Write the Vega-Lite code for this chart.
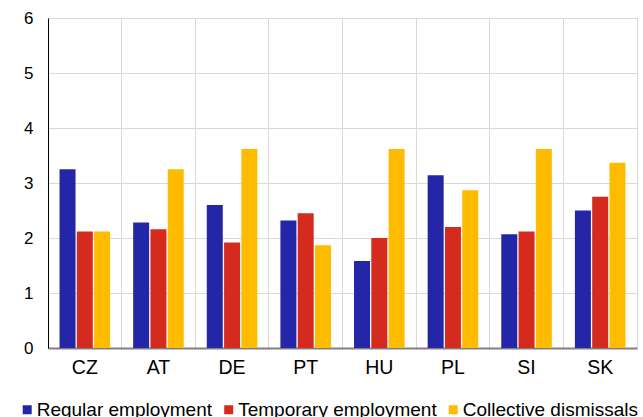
{
  "$schema": "https://vega.github.io/schema/vega-lite/v6.json",
  "autosize": "none",
  "width": 589,
  "height": 330,
  "padding": {"left": 48, "top": 18, "right": 6, "bottom": 69},
  "background": "white",
  "config": {
    "font": "Liberation Sans",
    "view": {"stroke": "#d9d9d9", "strokeWidth": 1}
  },
  "data": {
    "values": [
      {"country": "CZ", "series": "Regular employment", "value": 3.25},
      {"country": "CZ", "series": "Temporary employment", "value": 2.12},
      {"country": "CZ", "series": "Collective dismissals", "value": 2.12},
      {"country": "AT", "series": "Regular employment", "value": 2.28},
      {"country": "AT", "series": "Temporary employment", "value": 2.16},
      {"country": "AT", "series": "Collective dismissals", "value": 3.25},
      {"country": "DE", "series": "Regular employment", "value": 2.6},
      {"country": "DE", "series": "Temporary employment", "value": 1.92},
      {"country": "DE", "series": "Collective dismissals", "value": 3.62},
      {"country": "PT", "series": "Regular employment", "value": 2.32},
      {"country": "PT", "series": "Temporary employment", "value": 2.45},
      {"country": "PT", "series": "Collective dismissals", "value": 1.87},
      {"country": "HU", "series": "Regular employment", "value": 1.58},
      {"country": "HU", "series": "Temporary employment", "value": 2.0},
      {"country": "HU", "series": "Collective dismissals", "value": 3.62},
      {"country": "PL", "series": "Regular employment", "value": 3.14},
      {"country": "PL", "series": "Temporary employment", "value": 2.2},
      {"country": "PL", "series": "Collective dismissals", "value": 2.87},
      {"country": "SI", "series": "Regular employment", "value": 2.07},
      {"country": "SI", "series": "Temporary employment", "value": 2.12},
      {"country": "SI", "series": "Collective dismissals", "value": 3.62},
      {"country": "SK", "series": "Regular employment", "value": 2.5},
      {"country": "SK", "series": "Temporary employment", "value": 2.75},
      {"country": "SK", "series": "Collective dismissals", "value": 3.37}
    ]
  },
  "mark": {"type": "bar", "width": 16},
  "encoding": {
    "x": {
      "field": "country",
      "type": "nominal",
      "sort": ["CZ", "AT", "DE", "PT", "HU", "PL", "SI", "SK"],
      "scale": {"paddingInner": 0, "paddingOuter": 0},
      "axis": {
        "title": null,
        "labelAngle": 0,
        "labelFontSize": 19.5,
        "labelColor": "#000000",
        "labelPadding": 10,
        "ticks": false,
        "domainColor": "#808080",
        "domainWidth": 2,
        "grid": true,
        "gridColor": "#d9d9d9",
        "bandPosition": 0
      }
    },
    "xOffset": {
      "field": "series",
      "type": "nominal",
      "sort": ["Regular employment", "Temporary employment", "Collective dismissals"],
      "scale": {"paddingOuter": 0.63, "paddingInner": 0}
    },
    "y": {
      "field": "value",
      "type": "quantitative",
      "scale": {"domain": [0, 6], "nice": false},
      "axis": {
        "title": null,
        "values": [0, 1, 2, 3, 4, 5, 6],
        "labelFontSize": 17,
        "labelColor": "#000000",
        "labelPadding": 15,
        "ticks": false,
        "domainColor": "#000000",
        "domainWidth": 1,
        "gridColor": "#d9d9d9"
      }
    },
    "color": {
      "field": "series",
      "type": "nominal",
      "sort": ["Regular employment", "Temporary employment", "Collective dismissals"],
      "scale": {
        "domain": ["Regular employment", "Temporary employment", "Collective dismissals"],
        "range": ["#2426A8", "#D52B1E", "#FFBB00"]
      },
      "legend": {
        "title": null,
        "orient": "none",
        "direction": "horizontal",
        "legendX": -30.3,
        "legendY": 382,
        "symbolType": "square",
        "symbolSize": 81,
        "symbolStrokeWidth": 0,
        "labelFontSize": 19,
        "labelColor": "#000000",
        "labelOffset": 0,
        "columnPadding": 6.5,
        "labelLimit": 300
      }
    }
  }
}
